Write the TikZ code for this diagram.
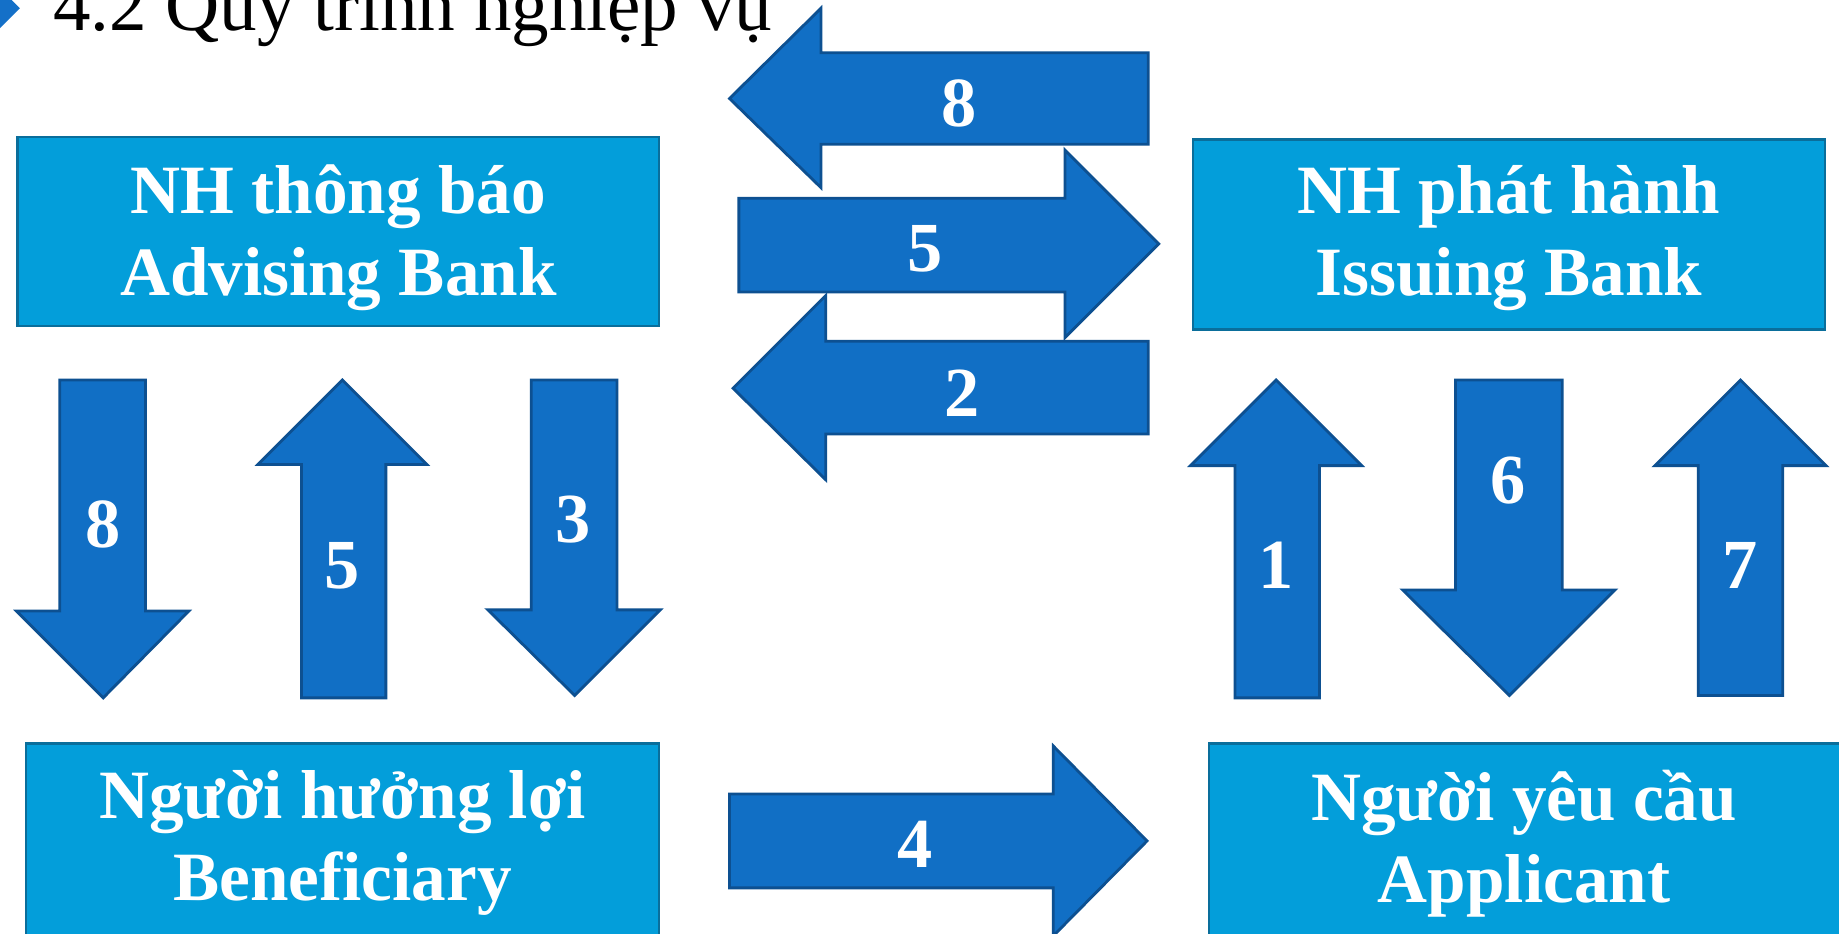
\documentclass[tikz,border=0pt]{standalone}
\usepackage{fontspec}
\setmainfont{Liberation Serif}
\definecolor{boxfill}{RGB}{3,158,218}
\definecolor{boxline}{RGB}{10,110,155}
\definecolor{arrfill}{RGB}{17,111,197}
\definecolor{arrline}{RGB}{13,80,145}
\definecolor{bullet}{RGB}{20,112,200}
\tikzset{
  bank/.style={draw=boxline, line width=2pt, fill=boxfill, inner sep=0pt},
  banktext/.style={text=white, align=center, inner sep=0pt,
    font=\fontsize{59}{70}\selectfont\bfseries},
  blockarrow/.style={draw=arrline, line width=2.4pt, fill=arrfill, line join=miter},
  num/.style={text=white, inner sep=0pt, font=\fontsize{60}{60}\selectfont\bfseries},
}
\begin{document}
\begin{tikzpicture}[x=1pt, y=-1pt]
\useasboundingbox (0,0) rectangle (1568,796);
\fill[white] (0,0) rectangle (1568,796);

% heading
\fill[bullet] (0,-10) -- (17,7) -- (0,24) -- cycle;
\node[anchor=base west, inner sep=0pt, font=\fontsize{64}{64}\selectfont] (title) at (45,26) {4.2 Quy trình nghiệp vụ};

% parties
\node[bank, minimum width=547pt, minimum height=161pt] (adv) at (288.5,197.5) {};
\node[bank, minimum width=539pt, minimum height=162pt] (iss) at (1286.5,200) {};
\node[bank, minimum width=540pt, minimum height=166pt] (ben) at (292,717) {};
\node[bank, minimum width=541pt, minimum height=166pt] (app) at (1301.5,717) {};
\node[banktext] (advt) at ([yshift=-5pt]adv.center) {NH thông báo\\Advising Bank};
\node[banktext] (isst) at ([yshift=-3pt]iss.center) {NH phát hành\\Issuing Bank};
\node[banktext] (bent) at ([yshift=-2pt]ben.center) {Người hưởng lợi\\Beneficiary};
\node[banktext] (appt) at ([yshift=-2pt,xshift=-2pt]app.center) {Người yêu cầu\\Applicant};

% horizontal flows between the banks
\draw[blockarrow] (622,84) -- (700,7) -- (700,45) -- (979,45) -- (979,123) -- (700,123) -- (700,160) -- cycle;
\draw[blockarrow] (630,169) -- (908,169) -- (908,128) -- (988,208) -- (908,288) -- (908,249) -- (630,249) -- cycle;
\draw[blockarrow] (625,331) -- (704,252) -- (704,291) -- (979,291) -- (979,370) -- (704,370) -- (704,409) -- cycle;

% beneficiary to applicant
\draw[blockarrow] (622,677) -- (898,677) -- (898,636) -- (978,717) -- (898,798) -- (898,757) -- (622,757) -- cycle;

% advising bank <-> beneficiary
\draw[blockarrow] (51,324) -- (124,324) -- (124,521) -- (161,521) -- (88,595) -- (14,521) -- (51,521) -- cycle;
\draw[blockarrow] (292,324) -- (364,396) -- (329,396) -- (329,595) -- (257,595) -- (257,396) -- (220,396) -- cycle;
\draw[blockarrow] (453,324) -- (526,324) -- (526,520) -- (563,520) -- (490,593) -- (416,520) -- (453,520) -- cycle;

% issuing bank <-> applicant
\draw[blockarrow] (1088,324) -- (1161,397) -- (1125,397) -- (1125,595) -- (1053,595) -- (1053,397) -- (1015,397) -- cycle;
\draw[blockarrow] (1241,324) -- (1332,324) -- (1332,503) -- (1377,503) -- (1287,593) -- (1196,503) -- (1241,503) -- cycle;
\draw[blockarrow] (1484,324) -- (1557,397) -- (1520,397) -- (1520,593) -- (1448,593) -- (1448,397) -- (1411,397) -- cycle;

% step numbers
\node[num] (n8a) at (818,88) {8};
\node[num] (n5a) at (789,212) {5};
\node[num] (n2)  at (820,335) {2};
\node[num] (n4)  at (780,720) {4};
\node[num] (n8b) at (88,447) {8};
\node[num] (n5b) at (292,482) {5};
\node[num] (n3)  at (489,443) {3};
\node[num] (n1)  at (1088,482) {1};
\node[num] (n6)  at (1286,410) {6};
\node[num] (n7)  at (1484,482) {7};
\end{tikzpicture}
\end{document}
